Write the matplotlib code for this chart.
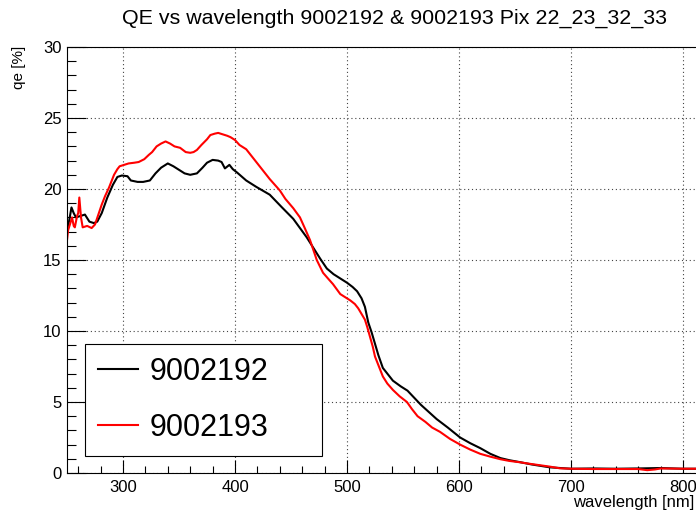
import numpy as np
import matplotlib
matplotlib.use("Agg")
import matplotlib.pyplot as plt
from matplotlib.ticker import MultipleLocator

plt.rcParams['font.family'] = ['Liberation Sans', 'DejaVu Sans']

# sensor 9002192 (black)
wl_192 = [250, 252, 254, 256, 258, 262, 266, 270, 274, 277, 281, 286, 291, 295, 299,
          304, 307, 313, 318, 324, 329, 334, 340, 345, 351, 355, 360, 366, 371, 375,
          380, 385, 388, 391, 395, 398, 402, 410, 419, 431, 442, 452, 458, 464, 470,
          476, 482, 488, 494, 500, 505, 509, 513, 516, 519, 522, 525, 528, 532, 537,
          541, 548, 554, 560, 566, 573, 580, 590, 601, 610, 619, 628, 637, 645, 654,
          665, 681, 700, 720, 740, 760, 780, 800, 812]
qe_192 = [17.1, 17.8, 18.7, 18.3, 18.0, 18.1, 18.2, 17.7, 17.6, 17.7, 18.3, 19.4, 20.3, 20.85, 20.95,
          20.9, 20.6, 20.5, 20.5, 20.6, 21.1, 21.5, 21.8, 21.6, 21.3, 21.1, 21.0, 21.1, 21.5, 21.85,
          22.05, 22.0, 21.9, 21.45, 21.7, 21.4, 21.15, 20.6, 20.15, 19.6, 18.7, 17.9, 17.25, 16.6, 15.85,
          15.1, 14.4, 14.0, 13.7, 13.4, 13.1, 12.8, 12.3, 11.7, 10.6, 9.9, 9.1, 8.3, 7.4, 6.9,
          6.5, 6.1, 5.8, 5.3, 4.8, 4.3, 3.8, 3.2, 2.5, 2.1, 1.75, 1.35, 1.05, 0.9, 0.77,
          0.6, 0.4, 0.3, 0.32, 0.3, 0.32, 0.35, 0.3, 0.3]

# sensor 9002193 (red)
wl_193 = [250, 251, 253, 254.5, 256, 257, 259, 260, 261, 262.5, 264, 268, 272, 275, 278,
          281, 284, 287.5, 290, 292, 295, 297, 301, 305, 310, 314, 319, 323, 326, 330,
          334, 338, 342, 346, 351, 356, 360, 363, 366, 370, 375, 378, 382, 385, 389,
          393, 396, 400, 404, 410, 413, 419, 425, 431, 440, 445, 452, 458, 462, 467,
          470, 473, 478.6, 483, 487.5, 494, 500, 503, 507, 510, 513, 516, 518, 520.5, 523,
          525, 528, 532, 536, 541, 547, 553.5, 558, 563, 570, 576, 583, 592, 601, 610,
          619, 628, 637, 645, 654, 663, 672, 681, 690, 700, 720, 740, 760, 768, 775,
          780, 800, 812]
qe_193 = [16.4, 17.1, 17.6, 18.0, 17.4, 17.3, 18.1, 18.3, 19.4, 18.0, 17.3, 17.4, 17.25, 17.5, 18.2,
          18.9, 19.5, 20.1, 20.6, 21.0, 21.4, 21.6, 21.7, 21.8, 21.85, 21.9, 22.1, 22.4, 22.6, 23.0,
          23.2, 23.35, 23.2, 23.0, 22.9, 22.6, 22.55, 22.6, 22.75, 23.1, 23.5, 23.8, 23.9, 23.95, 23.85,
          23.75, 23.65, 23.45, 23.1, 22.8, 22.5, 21.9, 21.3, 20.7, 19.9, 19.3, 18.65, 18.0, 17.3, 16.4,
          15.7, 15.0, 14.1, 13.7, 13.3, 12.6, 12.3, 12.15, 11.9, 11.6, 11.2, 10.8, 10.3, 9.6, 8.9,
          8.2, 7.6, 6.8, 6.3, 5.85, 5.4, 5.0, 4.5, 4.0, 3.6, 3.2, 2.9, 2.4, 2.0, 1.65,
          1.35, 1.15, 0.97, 0.85, 0.76, 0.65, 0.55, 0.45, 0.33, 0.3, 0.28, 0.28, 0.28, 0.2, 0.25,
          0.32, 0.3, 0.3]

fig = plt.figure(figsize=(6.96, 5.11), dpi=100)
ax = fig.add_axes([67 / 696, 38 / 511, 630 / 696, 426 / 511])

ax.plot(wl_192, qe_192, color='black', lw=1.5, label='9002192')
ax.plot(wl_193, qe_193, color='#ff0000', lw=1.5, label='9002193')

ax.set_xlim(250, 812.5)
ax.set_ylim(0, 30)
ax.xaxis.set_major_locator(MultipleLocator(100))
ax.xaxis.set_minor_locator(MultipleLocator(20))
ax.yaxis.set_major_locator(MultipleLocator(5))
ax.yaxis.set_minor_locator(MultipleLocator(1))
ax.tick_params(axis='y', which='major', direction='in', length=13.5, width=0.8, labelsize=12, pad=4)
ax.tick_params(axis='y', which='minor', direction='in', length=6.8, width=0.8)
ax.tick_params(axis='x', which='major', direction='in', length=9.4, width=0.8, labelsize=12, pad=5)
ax.tick_params(axis='x', which='minor', direction='in', length=4.7, width=0.8)
ax.grid(True, which='major', color='#444444', linestyle=(0, (1, 2.5)), lw=0.8)
ax.set_axisbelow(True)
for s in ax.spines.values():
    s.set_linewidth(0.8)

fig.text(394 / 696, 1 - 18 / 511, 'QE vs wavelength 9002192 & 9002193 Pix 22_23_32_33',
         ha='center', va='center', fontsize=15.4)
fig.text(694 / 696, 1 - 502 / 511, 'wavelength [nm]', ha='right', va='center', fontsize=12)
fig.text(19 / 696, 1 - 46 / 511, 'qe [%]', ha='center', va='top', rotation=90, fontsize=11)

leg = ax.legend(loc='lower left', bbox_to_anchor=(0.0286, 0.0399, 0.3765, 0.263), mode='expand',
                fontsize=22, frameon=True, fancybox=False, edgecolor='black', framealpha=1,
                borderaxespad=0, borderpad=0.43, labelspacing=0.85, handlelength=1.3,
                handletextpad=0.4)
leg.get_frame().set_linewidth(0.8)

fig.savefig('out.png', dpi=100)
